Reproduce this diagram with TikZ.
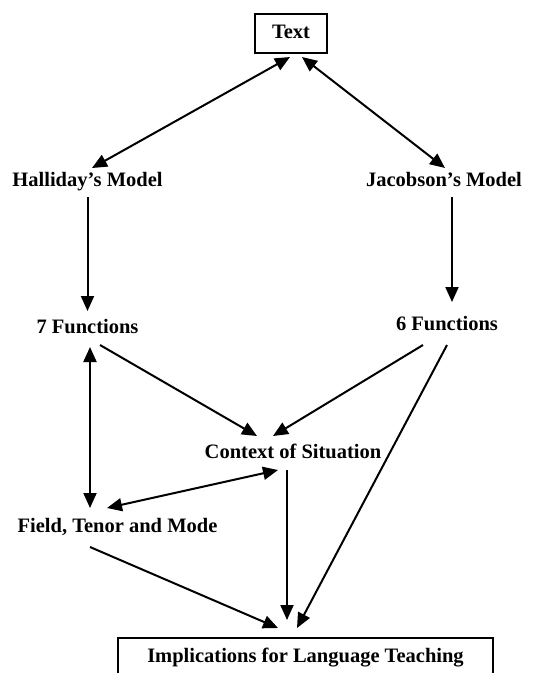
\documentclass[tikz,border=0pt]{standalone}
\usepackage{fontspec}
\setmainfont{Liberation Serif}
\usetikzlibrary{arrows.meta}
\tikzset{
	lbl/.style={font=\fontsize{20.5}{24}\selectfont\bfseries,inner sep=0pt,outer sep=0pt,text height=14pt,text depth=4pt},
	boxed/.style={lbl,draw,line width=2pt},
	arr/.style={line width=2pt,-{Triangle[length=15pt,width=13pt]}},
	darr/.style={line width=2pt,{Triangle[length=15pt,width=13pt]}-{Triangle[length=15pt,width=13pt]}}
}
\begin{document}
\begin{tikzpicture}[x=1pt,y=-1pt]
		\useasboundingbox (0,0) rectangle (552,673);
		\node[boxed,minimum width=72pt,minimum height=39pt] (T) at (291,33.5) {Text};
		\node[lbl] (H) at (87.5,181) {Halliday’s Model};
		\node[lbl] (J) at (444,181) {Jacobson’s Model};
		\node[lbl] (HF) at (87.5,328) {7 Functions};
		\node[lbl] (JF) at (447,325) {6 Functions};
		\node[lbl] (C) at (293,453) {Context of Situation};
		\node[lbl] (F) at (117.5,527) {Field, Tenor and Mode};
		\node[boxed,minimum width=375pt,minimum height=38pt] (I) at (305.5,657) {Implications for Language Teaching};
		\draw [darr] ([shift={(-1,4)}]T.south) to ([shift={(4.5,-4)}]H.north);
		\draw [darr] ([shift={(11,4)}]T.south) to ([shift={(1,-4)}]J.north);
		\draw [arr] ([shift={(0,7)}]H.south) to ([shift={(0,-8)}]HF.north);
		\draw [arr] ([shift={(8,7)}]J.south) to ([shift={(5,-14)}]JF.north);
		\draw [darr] ([shift={(2.5,10)}]HF.south) to ([shift={(-27.5,-10)}]F.north);
		\draw [arr] ([shift={(12.5,8)}]HF.south) to ([shift={(-36,-8)}]C.north);
		\draw [arr] ([shift={(-24,11)}]JF.south) to ([shift={(-20,-8)}]C.north);
		\draw [arr] ([shift={(0,11)}]JF.south) to ([shift={(-8.5,-10)}]I.north);
		\draw [darr] ([shift={(-15,8)}]C.south) to ([shift={(-10.5,-10)}]F.north);
		\draw [arr] ([shift={(-6,8)}]C.south) to ([shift={(-18.5,-18)}]I.north);
		\draw [arr] ([shift={(-27.5,11)}]F.south) to ([shift={(-27.5,-10)}]I.north);
	\end{tikzpicture}
\end{document}
